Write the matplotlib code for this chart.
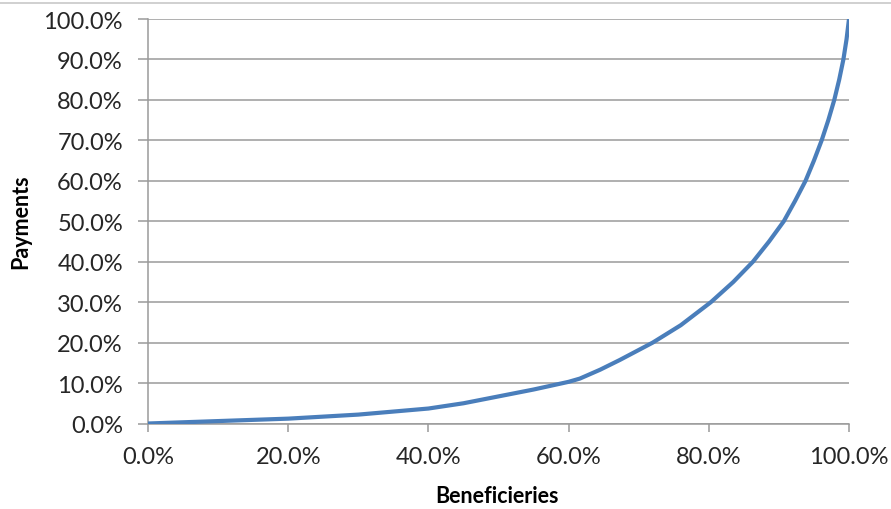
import matplotlib

matplotlib.use("Agg")
import matplotlib.pyplot as plt
from matplotlib.lines import Line2D
from matplotlib.ticker import FuncFormatter, MultipleLocator

# cumulative share of beneficiaries vs cumulative share of payments (%)
beneficiaries = [0, 10, 20, 30, 40, 45, 50, 55, 60, 61.6, 64.5, 67.3, 72,
                 76.0, 80.3, 83.5, 86.3, 88.6, 90.7, 92.3, 93.8, 95.0,
                 96.1, 97.05, 97.9, 98.6, 99.2, 99.65, 100]
payments = [0, 0.6, 1.2, 2.2, 3.7, 5.0, 6.7, 8.4, 10.3, 11.1, 13.3, 15.7, 20.0,
            24.3, 30.0, 35.0, 40.0, 45.0, 50.0, 55.0, 60.0, 65.0,
            70.0, 75.0, 80.0, 85.0, 90.0, 95.0, 100]

x_label = "Beneficieries"
y_label = "Payments"

FONT = "Lato"
TEXT_COLOR = "#262626"
GRID_COLOR = "#9a9a9a"
LINE_COLOR = "#4a7ebb"

fig = plt.figure(figsize=(8.91, 5.10), dpi=100)
ax = fig.add_axes([148 / 891, 1 - 424.5 / 510, 701 / 891, 404.5 / 510])

ax.plot(beneficiaries, payments, color=LINE_COLOR, linewidth=3.0,
        solid_joinstyle="round", solid_capstyle="round", zorder=3)

ax.set_xlim(0, 100)
ax.set_ylim(0, 100)
ax.xaxis.set_major_locator(MultipleLocator(20))
ax.yaxis.set_major_locator(MultipleLocator(10))
pct = FuncFormatter(lambda v, _: f"{v:.1f}%")
ax.xaxis.set_major_formatter(pct)
ax.yaxis.set_major_formatter(pct)

ax.grid(axis="y", color=GRID_COLOR, linewidth=1.1)
ax.set_axisbelow(True)
for side in ("top", "right"):
    ax.spines[side].set_visible(False)
for side in ("left", "bottom"):
    ax.spines[side].set_color(GRID_COLOR)
    ax.spines[side].set_linewidth(1.1)

ax.tick_params(axis="y", direction="out", length=7, width=1.1,
               color=GRID_COLOR, pad=11)
ax.tick_params(axis="x", direction="out", length=6, width=1.1,
               color=GRID_COLOR, pad=10)
for lab in ax.get_xticklabels() + ax.get_yticklabels():
    lab.set_fontfamily(FONT)
    lab.set_fontsize(17)
    lab.set_color(TEXT_COLOR)

fig.text(497 / 891, 1 - 497 / 510, x_label, ha="center", va="center",
         fontfamily=FONT, fontsize=15.5, fontweight="bold", color="black")
fig.text(21 / 891, 1 - 222 / 510, y_label, ha="center", va="center",
         rotation=90, fontfamily=FONT, fontsize=15.5, fontweight="bold",
         color="black")

# thin frame edge along the top of the chart area
fig.add_artist(Line2D([0, 1], [1 - 4 / 510, 1 - 4 / 510],
                      transform=fig.transFigure, color="#c8c8c8", linewidth=1.2))

fig.savefig("out.png", dpi=100)
